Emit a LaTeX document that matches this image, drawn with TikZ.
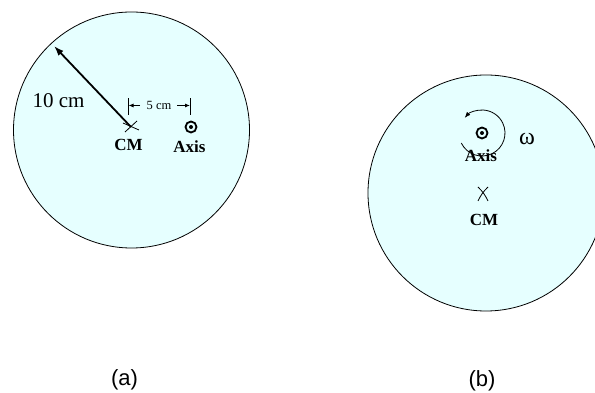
\documentclass[tikz,border=0pt]{standalone}
\usepackage{fontspec}
\setmainfont{Liberation Serif}
\newfontfamily\arialfont{Liberation Sans}
\usetikzlibrary{arrows.meta}
\definecolor{disk}{RGB}{230,255,255}
\tikzset{
  disk/.style={draw=black, line width=0.8pt, fill=disk},
  lbl/.style={inner sep=0pt, font=\bfseries\fontsize{17}{17}\selectfont},
  thin/.style={line width=0.8pt},
  axisring/.style={draw=black, line width=1.8pt, circle, minimum size=11pt, inner sep=0pt},
}
\begin{document}
\begin{tikzpicture}[x=1pt,y=1pt]
\clip (0,0) rectangle (595,393);
% disks
\node[disk, circle, minimum size=236pt, inner sep=0pt] (diska) at (131.5,263) {};
\node[disk, circle, minimum size=236pt, inner sep=0pt] (diskb) at (486,200) {};
% ---------- (a)
\coordinate (cma) at (131,266);
\coordinate (rim) at (54,347);
\draw[line width=1.8pt, -{Latex[length=10pt,width=7pt]}] (cma) -- (rim);
\draw[thin] ([shift={(-8,4)}]cma) -- ([shift={(8,-3)}]cma);
\draw[thin] ([shift={(-6,-5)}]cma) -- ([shift={(6,6)}]cma);
\node[inner sep=0pt, font=\fontsize{21}{21}\selectfont] (ten) at (58.5,292) {10 cm};
% dimension
\coordinate (tl) at (128.5,287.5);
\coordinate (tr) at (190,287.5);
\draw[thin] (128.5,278) -- (128.5,295);
\draw[thin] (190,278) -- (190,295);
\node[inner sep=0pt, font=\fontsize{12.5}{12.5}\selectfont] (five) at (159,287.5) {5 cm};
\draw[thin, -{Latex[length=5pt,width=4pt]}] (140,287.5) -- (tl);
\draw[thin, -{Latex[length=5pt,width=4pt]}] (177,287.5) -- (tr);
% axis
\node[axisring] (axa) at (191,266) {};
\fill (axa.center) circle (2pt);
\node[lbl] (cmla) at (128.5,248) {CM};
\node[lbl] (axla) at (189.5,246) {Axis};
% ---------- (b)
\node[axisring] (axb) at (482,260) {};
\fill (axb.center) circle (2pt);
\node[lbl] (axlb) at (481,237) {Axis};
\draw[thin, -{Latex[length=6pt,width=4.5pt]}] ([shift={(-154:23)}]axb.center) arc[start angle=-154, end angle=139, radius=23];
\node[inner sep=0pt, font=\fontsize{24}{24}\selectfont] (om) at (527,254) {ω};
\coordinate (cmb) at (483,199);
\draw[thin] ([shift={(-5,7)}]cmb) to[bend left=10] ([shift={(5,-7)}]cmb);
\draw[thin] ([shift={(5,7)}]cmb) to[bend right=10] ([shift={(-5,-7)}]cmb);
\node[lbl] (cmlb) at (484,173) {CM};
% captions
\node[inner sep=0pt, font=\arialfont\fontsize{22}{22}\selectfont] (capa) at (124.5,13) {(a)};
\node[inner sep=0pt, font=\arialfont\fontsize{22}{22}\selectfont] (capb) at (482,12) {(b)};
\end{tikzpicture}
\end{document}
